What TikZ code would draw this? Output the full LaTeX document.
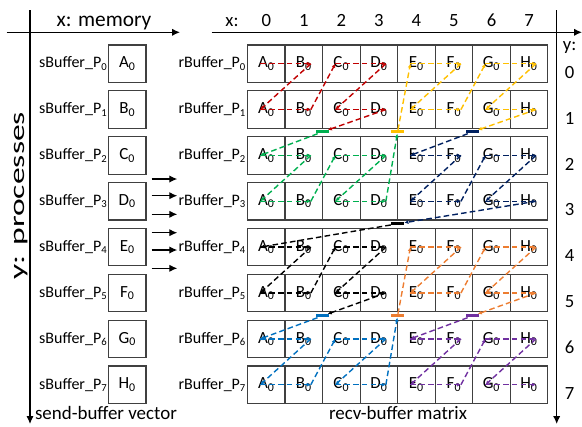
\documentclass[tikz,border=0pt]{standalone}
\usepackage{fontspec}
\setmainfont{Carlito}
\usetikzlibrary{arrows.meta}

\definecolor{cred}{HTML}{C00000}
\definecolor{cgreen}{HTML}{00B050}
\definecolor{cyellow}{HTML}{FFC000}
\definecolor{cnavy}{HTML}{002060}
\definecolor{cblack}{HTML}{000000}
\definecolor{cblue}{HTML}{0070C0}
\definecolor{corange}{HTML}{ED7D31}
\definecolor{cpurple}{HTML}{7030A0}

\begin{document}
\begin{tikzpicture}[x=0.75pt,y=-0.75pt,
    cell/.style={draw=black!75, line width=0.9pt, minimum width=28.15pt, minimum height=28.05pt,
                 inner sep=0pt, font=\fontsize{12.75}{14}\selectfont},
    buflabel/.style={anchor=east, inner sep=0.5pt, font=\fontsize{12}{14}\selectfont},
    arr/.style={line width=0.9pt, -{Latex[length=6pt,width=5.5pt]}},
    flow/.style={draw=#1, line width=1.05pt, dash pattern=on 4.2pt off 2.4pt,
                 -{Latex[length=3pt,width=3pt]}},
    startbar/.style={fill=#1, minimum width=9.75pt, minimum height=2.4pt, inner sep=0pt}]
    \useasboundingbox (0,0) rectangle (582,426);
    \def\rowH{45.857}
    \def\colW{37.53}
    % 绘制坐标轴
    \coordinate (lv0) at (30,10);     \coordinate (lv1) at (30,424);
    \coordinate (lh0) at (6.7,32.3);  \coordinate (lh1) at (180,32.3);
    \coordinate (rv0) at (556.7,10);  \coordinate (rv1) at (556.7,424);
    \coordinate (rh0) at (211.7,32.3); \coordinate (rh1) at (582,32.3);
    \draw[arr] (lv0) -- (lv1);
    \draw[arr] (lh0) -- (lh1);
    \draw[arr] (rv0) -- (rv1);
    \draw[arr] (rh0) -- (rh1);
    \node[anchor=base, font=\fontsize{16}{18}\selectfont] (xmem) at (104,26.7) {x: memory};
    \node[rotate=90, font=\fontsize{15.75}{18}\selectfont] (yproc) at (20.8,196) {\scalebox{1.6}[1]{y: processes}};
    \node[anchor=base, font=\fontsize{14}{16}\selectfont] (xlab) at (232,26) {x:};
    \node[anchor=base, font=\fontsize{14}{16}\selectfont] (ylab) at (569.7,50) {y:};
    \foreach \col in {0,...,7}
        \node[anchor=base, font=\fontsize{14}{16}\selectfont] (xn\col) at ({266.3+\colW*\col},26) {\col};
    \foreach \row in {0,...,7}
        \node[anchor=base, font=\fontsize{14}{16}\selectfont] (yn\row) at (569.7,{78.3+\rowH*\row}) {\row};
    % 发送缓冲区与接收缓冲区
    \foreach \row/\lbl in {0/A,1/B,2/C,3/D,4/E,5/F,6/G,7/H}{
        \node[cell] (s\row) at (127.3,{63.7+\rowH*\row}) {\lbl\textsubscript{0}};
        \node[buflabel] (sl\row) at (108.3,{63.7+\rowH*\row}) {sBuffer\_P\textsubscript{\row}};
        \node[buflabel] (rl\row) at (247,{63.7+\rowH*\row}) {rBuffer\_P\textsubscript{\row}};
        \foreach \col/\ent in {0/A,1/B,2/C,3/D,4/E,5/F,6/G,7/H}{
            \node[cell] (m\row\col) at ({266.3+\colW*\col},{63.7+\rowH*\row}) {\ent\textsubscript{0}};
            \coordinate (lp\row\col) at ([xshift=-4.5pt]m\row\col.center);
            \coordinate (rp\row\col) at ([xshift=5.25pt]m\row\col.center);
        }
    }
    \node[anchor=base, font=\fontsize{14.2}{16}\selectfont] (svec) at (106,419.3) {send-buffer vector};
    \node[anchor=base, font=\fontsize{14.2}{16}\selectfont] (rmat) at (398,419.3) {recv-buffer matrix};
    % 中间的箭头
    \foreach \i/\y in {1/179,2/195.7,3/214.3,4/232.7,5/250,6/268.3}{
        \coordinate (sa\i) at (151.7,\y);
        \coordinate (sb\i) at (177.3,\y);
        \draw[arr] (sa\i) -- (sb\i);
    }
    % 各组的虚线路径
    \foreach \clr/\row/\col in {cred/0/0,cgreen/2/0,cyellow/0/4,cnavy/2/4,cblack/4/0,cblue/6/0,corange/4/4,cpurple/6/4}{
        \pgfmathtruncatemacro\rb{\row+1}
        \pgfmathtruncatemacro\cb{\col+1}
        \pgfmathtruncatemacro\cc{\col+2}
        \pgfmathtruncatemacro\cd{\col+3}
        \draw[flow=\clr] (lp\row\col) -- (rp\row\cb);
        \draw[flow=\clr] (rp\row\cb) -- (lp\rb\col);
        \draw[flow=\clr] (lp\rb\col) -- (rp\rb\cb);
        \draw[flow=\clr] (rp\rb\cb) -- (lp\row\cc);
        \draw[flow=\clr] (lp\row\cc) -- (rp\row\cd);
        \draw[flow=\clr] (rp\row\cd) -- (lp\rb\cc);
        \draw[flow=\clr] (lp\rb\cc) -- (rp\rb\cd);
    }
    % 起点标记
    \node[startbar=cgreen]  (bg) at (322.6,131.8) {};
    \node[startbar=cyellow] (by) at (397.6,131.8) {};
    \node[startbar=cnavy]   (bn) at (472.7,131.8) {};
    \node[startbar=cblack]  (bk) at (397.6,223.8) {};
    \node[startbar=cblue]   (bb) at (322.6,315.8) {};
    \node[startbar=corange] (bo) at (397.6,315.8) {};
    \node[startbar=cpurple] (bp) at (472.7,315.8) {};
    \foreach \a/\b/\clr in {rp13/bg/cred,bg/lp20/cgreen,rp33/by/cgreen,by/lp04/cyellow,
                            rp17/bn/cyellow,bn/lp24/cnavy,rp37/bk/cnavy,bk/lp40/cblack,
                            rp53/bb/cblack,bb/lp60/cblue,rp73/bo/cblue,bo/lp44/corange,
                            rp57/bp/corange,bp/lp64/cpurple}
        \draw[flow=\clr] (\a) -- (\b);
\end{tikzpicture}
\end{document}
